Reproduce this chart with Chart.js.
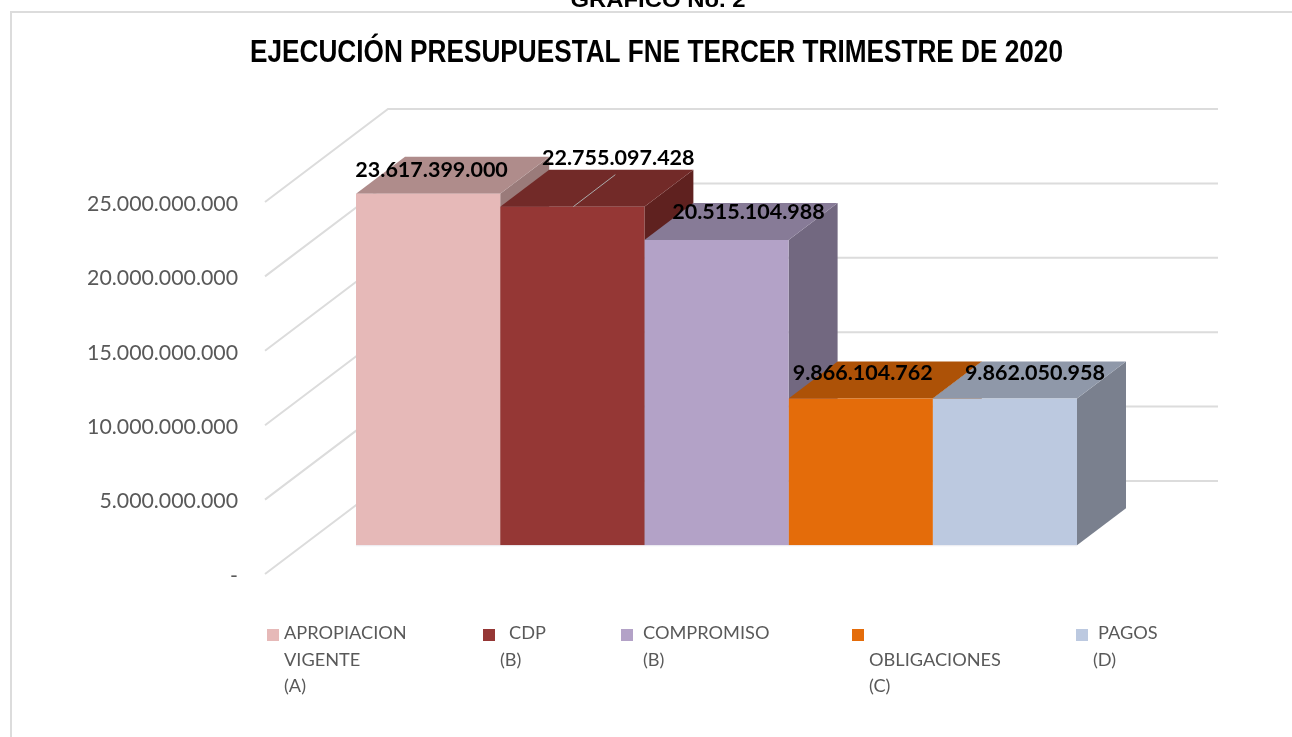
<!DOCTYPE html>
<html><head><meta charset="utf-8">
<style>html,body{margin:0;padding:0;background:#fff;overflow:hidden}#w{position:absolute;left:0;top:0;width:1292px;height:737px}</style>
<script src="https://cdn.jsdelivr.net/npm/chart.js@4"></script>
</head><body><div id="w"><canvas id="c" width="1292" height="737"></canvas></div>
<script>
const categories = ['2020 T3'];
const seriesNames = ['APROPIACION VIGENTE (A)', 'CDP (B)', 'COMPROMISO (B)', 'OBLIGACIONES (C)', 'PAGOS (D)'];
const seriesValues = [23617399000, 22755097428, 20515104988, 9866104762, 9862050958];
const frontColors = ['#E6B9B8', '#953735', '#B3A2C7', '#E46C0A', '#BCC9E0'];
const topColors = ['#AF8C8B', '#722A28', '#877B97', '#AD5207', '#8F98A9'];
const sideColors = ['#9A7B7A', '#5F211F', '#726880', '#974806', '#7A808E'];
const titleText = 'EJECUCIÓN PRESUPUESTAL FNE TERCER TRIMESTRE DE 2020';
const captionText = 'GRAFICO No. 2';
const legendLines = [['APROPIACION', 'VIGENTE', '(A)'], ['CDP', '(B)'], ['COMPROMISO', '(B)'], ['', 'OBLIGACIONES', '(C)'], ['PAGOS', '(D)']];

const fmt = v => Math.round(v).toString().replace(/\B(?=(\d{3})+$)/g, '.');
const GRID = '#DCDCDC';
const WALL = {dx: 123, dy: -93, right: 1218};
const DEPTH = {dx: 49, dy: -37};
const LABEL_OFF = [[3.5, -24], [46, -48.5], [32, -27.5], [2, -25], [30, -25]];
const LEG_SQ = [[267, 629], [483, 629], [621, 629], [852, 629], [1076, 629]];
const LEG_TX = [[284, 284, 284], [509, 500], [643, 643], [869, 869, 869], [1098, 1093]];
const LEG_Y = [633.5, 660.5, 686.5];
const FONT = 'Lato';
const TITLE_FONT = '"Liberation Sans"';
const TITLE_WIDTH = 813, TITLE_CX = 656.5, CAPTION_WIDTH = 175, CAPTION_CX = 658;

function poly(ctx, pts, fill) {
  ctx.beginPath(); pts.forEach((p, i) => i ? ctx.lineTo(p[0], p[1]) : ctx.moveTo(p[0], p[1]));
  ctx.closePath(); ctx.fillStyle = fill; ctx.fill();
}
const deco = {
  id: 'deco',
  afterLayout(chart) {
    const tb = chart.titleBlock;
    if (!tb || tb._narrow) return;
    tb._narrow = true;
    const draw = tb.draw.bind(tb);
    tb.draw = function () {
      const ctx = chart.ctx;
      ctx.save();
      ctx.font = 'bold 32px ' + TITLE_FONT;
      const k = TITLE_WIDTH / ctx.measureText(titleText).width;
      ctx.translate(TITLE_CX, 0); ctx.scale(k, 1); ctx.translate(-(tb.left + tb.right) / 2, 0);
      draw();
      ctx.restore();
    };
  },
  beforeDatasetsDraw(chart) {
    const ctx = chart.ctx, y = chart.scales.y, left = chart.chartArea.left;
    ctx.save();
    ctx.strokeStyle = GRID; ctx.lineWidth = 2;
    ctx.beginPath(); ctx.moveTo(11, 737); ctx.lineTo(11, 12); ctx.lineTo(1292, 12); ctx.stroke();
    y.ticks.forEach(t => {
      const py = y.getPixelForValue(t.value);
      ctx.beginPath(); ctx.moveTo(left, py); ctx.lineTo(left + WALL.dx, py + WALL.dy); ctx.lineTo(WALL.right, py + WALL.dy); ctx.stroke();
    });
    seriesValues.forEach((_, i) => {
      const b = chart.getDatasetMeta(i).data[0], l = b.x - b.width / 2, r = b.x + b.width / 2;
      poly(ctx, [[r, b.y], [r + DEPTH.dx, b.y + DEPTH.dy], [r + DEPTH.dx, b.base + DEPTH.dy], [r, b.base]], sideColors[i]);
      poly(ctx, [[l, b.y], [l + DEPTH.dx, b.y + DEPTH.dy], [r + DEPTH.dx, b.y + DEPTH.dy], [r, b.y]], topColors[i]);
    });
    ctx.restore();
  },
  afterDatasetsDraw(chart) {
    const ctx = chart.ctx;
    ctx.save();
    const b2 = chart.getDatasetMeta(1).data[0];
    ctx.strokeStyle = '#ABABAB'; ctx.lineWidth = 1;
    ctx.beginPath(); ctx.moveTo(b2.x + 1, b2.y); ctx.lineTo(b2.x + 43, b2.y - 32); ctx.stroke();
    const first = chart.getDatasetMeta(0).data[0], last = chart.getDatasetMeta(seriesValues.length - 1).data[0];
    ctx.strokeStyle = '#ECECF2';
    ctx.beginPath(); ctx.moveTo(first.x - first.width / 2, first.base + 0.5); ctx.lineTo(last.x + last.width / 2, first.base + 0.5); ctx.stroke();
    ctx.font = 'bold 21.5px ' + FONT; ctx.fillStyle = '#000'; ctx.textAlign = 'center'; ctx.textBaseline = 'middle';
    seriesValues.forEach((v, i) => {
      const b = chart.getDatasetMeta(i).data[0];
      ctx.fillText(fmt(v), b.x + LABEL_OFF[i][0], b.y + LABEL_OFF[i][1]);
    });
    ctx.save();
    ctx.font = 'bold 22px ' + TITLE_FONT; ctx.textBaseline = 'alphabetic';
    const k = CAPTION_WIDTH / ctx.measureText(captionText).width;
    ctx.translate(CAPTION_CX, 7); ctx.scale(k, 1);
    ctx.fillText(captionText, 0, 0);
    ctx.restore();
    ctx.textAlign = 'left'; ctx.textBaseline = 'middle'; ctx.font = '18.2px ' + FONT;
    legendLines.forEach((lines, i) => {
      ctx.fillStyle = frontColors[i]; ctx.fillRect(LEG_SQ[i][0], LEG_SQ[i][1], 12, 12);
      ctx.fillStyle = '#595959';
      lines.forEach((t, j) => { if (t) ctx.fillText(t, LEG_TX[i][j], LEG_Y[j]); });
    });
    ctx.restore();
  }
};
new Chart(document.getElementById('c'), {
  type: 'bar',
  data: {
    labels: categories,
    datasets: seriesNames.map((n, i) => ({
      label: n, data: [seriesValues[i]], backgroundColor: frontColors[i],
      yAxisID: 'yBars', barPercentage: 1, categoryPercentage: 721 / 903, clip: false
    }))
  },
  plugins: [deco],
  options: {
    responsive: false, animation: false, devicePixelRatio: 1,
    layout: {padding: {left: 20, right: 124, top: 0, bottom: 163}},
    plugins: {
      legend: {display: false}, tooltip: {enabled: false},
      title: {display: true, text: titleText, color: '#000',
        font: {family: TITLE_FONT, size: 32, weight: 'bold', lineHeight: 1.2},
        padding: {top: 34, bottom: 129.6}}
    },
    scales: {
      x: {display: false},
      y: {position: 'left', min: 0, max: 25e9,
        afterFit(s) { s.width = 245; s.paddingTop = 0; s.paddingBottom = 0; },
        grid: {display: false}, border: {display: false},
        ticks: {stepSize: 5e9, padding: 19, labelOffset: 2, color: '#595959', font: {family: FONT, size: 21.3},
          callback: v => v === 0 ? '-' : fmt(v)}},
      yBars: {display: false, position: 'left', min: -1.93e9, max: 23.07e9}
    }
  }
});
</script></body></html>
